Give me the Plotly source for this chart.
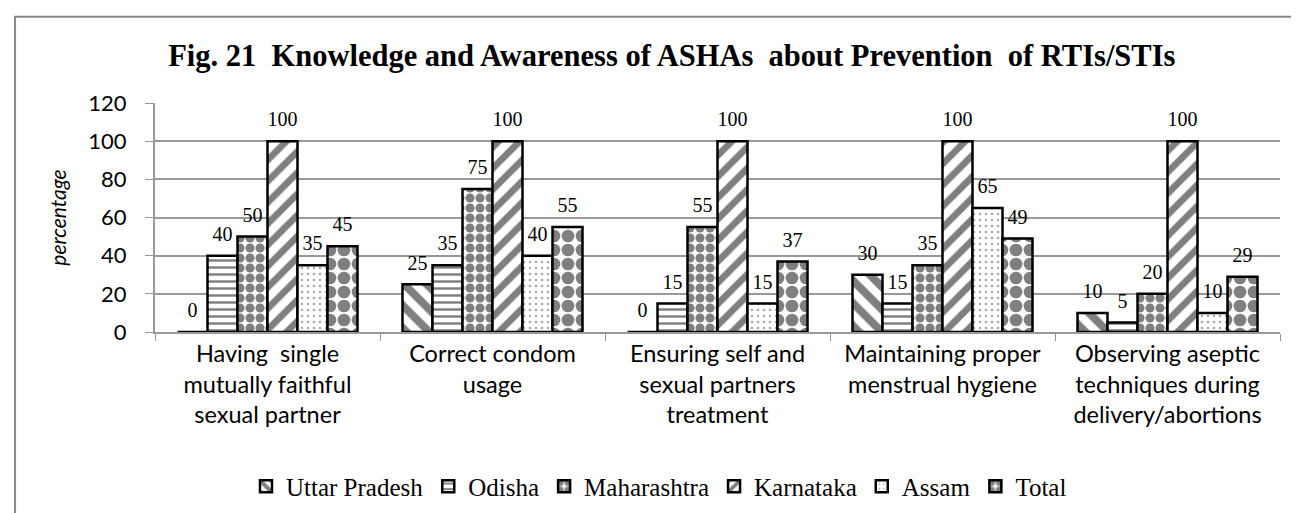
import plotly.graph_objects as go

categories = [
    "Having  single<br>mutually faithful<br>sexual partner",
    "Correct condom<br>usage",
    "Ensuring self and<br>sexual partners<br>treatment",
    "Maintaining proper<br>menstrual hygiene",
    "Observing aseptic<br>techniques during<br>delivery/abortions",
]
series_names = ["Uttar Pradesh", "Odisha", "Maharashtra", "Karnataka", "Assam", "Total"]
uttar_pradesh = [0, 25, 0, 30, 10]
odisha = [40, 35, 15, 15, 5]
maharashtra = [50, 75, 55, 35, 20]
karnataka = [100, 100, 100, 100, 100]
assam = [35, 40, 15, 65, 10]
total = [45, 55, 37, 49, 29]
series_values = [uttar_pradesh, odisha, maharashtra, karnataka, assam, total]
y_ticks = [0, 20, 40, 60, 80, 100, 120]

patterns = [
    dict(shape="\\", size=16, solidity=0.5),
    dict(shape="-", size=7, solidity=0.35),
    dict(shape=".", size=10, solidity=0.65),
    dict(shape="/", size=15, solidity=0.45),
    dict(shape=".", size=6, solidity=0.15, fgcolor="#555"),
    dict(shape=".", size=14, solidity=0.65),
]

fig = go.Figure()
for i, (name, vals) in enumerate(zip(series_names, series_values)):
    pat = dict(fgcolor="black", bgcolor="white", fillmode="overlay")
    pat.update(patterns[i])
    fig.add_trace(go.Bar(
        x=categories, y=vals, name=name, offsetgroup=str(i),
        marker=dict(color="white", pattern=pat, line=dict(color="black", width=2.5)),
    ))
for i, (name, vals) in enumerate(zip(series_names, series_values)):
    fig.add_trace(go.Scatter(
        x=categories, y=vals, mode="markers+text", offsetgroup=str(i),
        text=[str(v) for v in vals], textposition="top center",
        marker=dict(size=14, opacity=0),
        textfont=dict(family="Liberation Serif", size=20, color="black"),
        showlegend=False, hoverinfo="skip", cliponaxis=False,
    ))

fig.update_layout(
    width=1299, height=513,
    margin=dict(l=147, r=27, t=95, b=187),
    plot_bgcolor="white", paper_bgcolor="white",
    barmode="group", bargap=0.2, bargroupgap=0,
    scattermode="group", scattergap=0.2,
    title=dict(
        text="<b>Fig. 21  Knowledge and Awareness of ASHAs  about Prevention  of RTIs/STIs</b>",
        x=0.511, xref="container", xanchor="center", y=0.908, yref="container", yanchor="middle",
        font=dict(family="Liberation Serif", size=30.5, color="black"),
    ),
    legend=dict(
        orientation="h", x=0.448, xanchor="center", y=-0.675, yanchor="middle",
        font=dict(family="Liberation Serif", size=25, color="black"),
        itemwidth=30, traceorder="normal",
    ),
    xaxis=dict(
        type="category", tickson="boundaries", ticks="outside", ticklen=7,
        tickcolor="#999", showline=True, linecolor="#999", linewidth=2,
        tickfont=dict(family="Lato", size=23.5, color="black"),
        showgrid=False,
    ),
    yaxis=dict(
        range=[0, 120], tickvals=y_ticks, ticks="outside", ticklen=8, tickcolor="#999",
        ticklabelstandoff=14,
        showline=True, linecolor="#999", linewidth=2,
        showgrid=True, gridcolor="#999", gridwidth=2,
        tickfont=dict(family="Lato", size=22, color="black"),
        title=dict(text="<i>percentage</i>", font=dict(family="Lato", size=21, color="black"), standoff=16),
        zeroline=False,
    ),
    showlegend=True,
)
fig.add_shape(type="rect", xref="paper", yref="paper",
              x0=-0.1244, x1=1.2, y0=-1.3, y1=1.3766,
              line=dict(color="#888", width=2), layer="below")

fig.write_html("out.html")
